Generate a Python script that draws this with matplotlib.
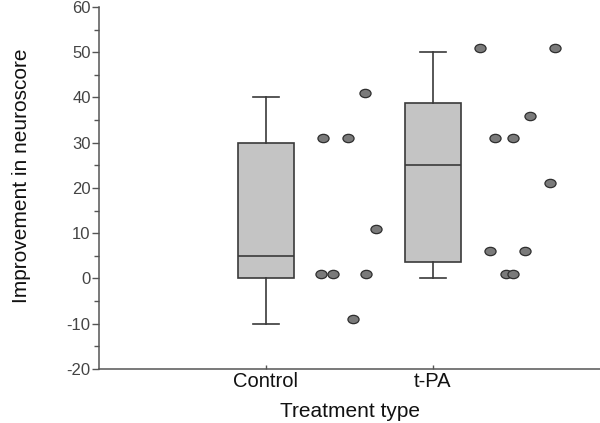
import numpy as np
import matplotlib
matplotlib.use('Agg')
import matplotlib.pyplot as plt
from matplotlib.path import Path
from matplotlib.transforms import Affine2D

plt.rcParams['font.family'] = ['Liberation Sans', 'DejaVu Sans']
plt.rcParams['axes.unicode_minus'] = False

groups = ['Control', 't-PA']

# box summaries as drawn
whis_lo = [-10, 0]
q1 = [0, 3.75]
med = [5, 25]
q3 = [30, 38.75]
whis_hi = [40, 50]

# individual observations, shown to the right of each box
ctrl_x = [1.34, 1.49, 1.59, 1.66, 1.33, 1.40, 1.60, 1.52]
ctrl_y = [31, 31, 41, 11, 1, 1, 1, -9]
tpa_x = [2.28, 2.73, 2.58, 2.37, 2.48, 2.70, 2.34, 2.55, 2.44, 2.48]
tpa_y = [51, 51, 36, 31, 31, 21, 6, 6, 1, 1]

stats = []
for i, g in enumerate(groups):
    stats.append(dict(label=g, whislo=whis_lo[i], q1=q1[i], med=med[i],
                      q3=q3[i], whishi=whis_hi[i], fliers=[]))

fig = plt.figure(figsize=(6, 4.23), dpi=100)
ax = fig.add_axes([0.165, 0.1277, 0.835, 0.8558])

edge = '#3a3a3a'
ax.bxp(stats, positions=[1, 2], widths=0.33, capwidths=0.16,
       patch_artist=True, showfliers=False,
       boxprops=dict(facecolor='#c4c4c4', edgecolor=edge, linewidth=1.2),
       medianprops=dict(color=edge, linewidth=1.2),
       whiskerprops=dict(color=edge, linewidth=1.2),
       capprops=dict(color=edge, linewidth=1.2))

oval = Path.unit_circle().transformed(Affine2D().scale(1.0, 0.75))
ax.plot(ctrl_x, ctrl_y, ls='none', marker=oval, ms=8,
        mfc='#7a7a7a', mec='#2e2e2e', mew=0.9)
ax.plot(tpa_x, tpa_y, ls='none', marker=oval, ms=8,
        mfc='#7a7a7a', mec='#2e2e2e', mew=0.9)

ax.set_xlim(0, 3)
ax.set_ylim(-20, 60)
ax.set_xticks([1, 2])
ax.set_xticklabels(groups)
ax.set_yticks(np.arange(-20, 61, 10))
ax.set_yticks(np.arange(-15, 60, 10), minor=True)

for s in ['top', 'right']:
    ax.spines[s].set_visible(False)
for s in ['left', 'bottom']:
    ax.spines[s].set_color('#555555')
    ax.spines[s].set_linewidth(1.1)

ax.tick_params(axis='y', which='major', direction='out', length=5,
               width=1, color='#555555', labelsize=12, labelcolor='#444444', pad=1)
ax.tick_params(axis='y', which='minor', direction='out', length=3.5,
               width=1, color='#555555')
ax.tick_params(axis='x', direction='in', length=3, width=1,
               color='#555555', labelsize=14.5, labelcolor='#111111', pad=2)

ax.set_ylabel('Improvement in neuroscore', fontsize=15, color='#111111')
ax.set_xlabel('Treatment type', fontsize=15, color='#111111')
ax.yaxis.set_label_coords(-0.136, 0.533)
ax.xaxis.set_label_coords(0.5, -0.092)

fig.savefig('out.png', dpi=100)
